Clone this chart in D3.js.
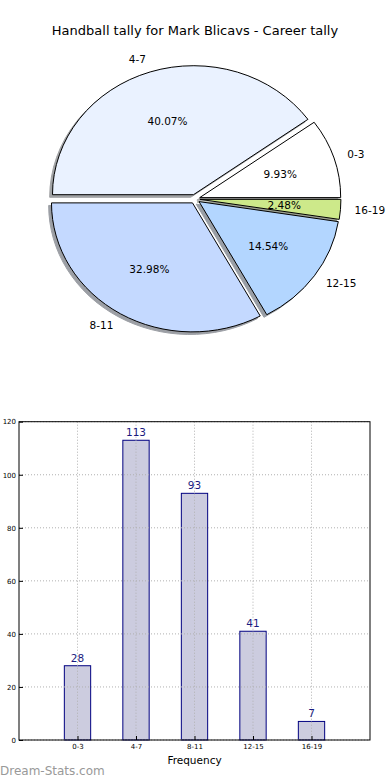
<!DOCTYPE html>
<html><head><meta charset="utf-8">
<script src="https://cdn.jsdelivr.net/npm/d3@7"></script>
<style>
html,body{margin:0;padding:0;background:#fff;}
text{font-family:"DejaVu Sans",sans-serif;}
</style></head>
<body>
<svg id="chart" width="390" height="780"></svg>
<script>
const title = "Handball tally for Mark Blicavs - Career tally";
const categories = ["0-3","4-7","8-11","12-15","16-19"];
const counts = [28,113,93,41,7];
const pieColors = ["#ffffff","#eaf2ff","#c4d9ff","#b3d6ff","#cde98a"];
const yTicks = [0,20,40,60,80,100,120];
const xLabel = "Frequency";
const watermark = "Dream-Stats.com";

(function(){
const svg = d3.select("#chart");
const total = d3.sum(counts);

svg.append("text").attr("x",195).attr("y",35).attr("text-anchor","middle")
  .attr("font-size","13px").attr("fill","#000").text(title);

// ---- Pie ----
const cx = 195, cy = 199, rx = 141, ry = 129, R = 100, explode = 0.035;
const sx = rx / R, sy = ry / R;
const pie = d3.pie().sort(null).startAngle(Math.PI/2).endAngle(Math.PI/2 - 2*Math.PI);
const arcs = pie(counts);
const arcGen = d3.arc().innerRadius(0).outerRadius(R);
const pg = svg.append("g").attr("transform",`translate(${cx},${cy}) scale(${sx},${sy})`);
function off(d){ const a=(d.startAngle+d.endAngle)/2; return [Math.sin(a)*explode*R, -Math.cos(a)*explode*R]; }
const shOff = [-0.02*R, 0.02*R];
function dark(i){const c=d3.rgb(pieColors[i]);return d3.rgb(c.r*0.3,c.g*0.3,c.b*0.3).toString();}
pg.selectAll("path.shadow").data(arcs).enter().append("path")
  .attr("class","shadow")
  .attr("transform",d=>{const o=off(d);return `translate(${o[0]+shOff[0]},${o[1]+shOff[1]})`;})
  .attr("d",arcGen)
  .attr("fill",(d,i)=>dark(i)).attr("stroke",(d,i)=>dark(i))
  .attr("stroke-width",1).attr("vector-effect","non-scaling-stroke")
  .attr("opacity",0.5);
pg.selectAll("path.wedge").data(arcs).enter().append("path")
  .attr("class","wedge")
  .attr("transform",d=>{const o=off(d);return `translate(${o[0]},${o[1]})`;})
  .attr("d",arcGen)
  .attr("fill",(d,i)=>pieColors[i])
  .attr("stroke","#000").attr("stroke-width",1).attr("vector-effect","non-scaling-stroke");
function pos(d,f){ const a=(d.startAngle+d.endAngle)/2; const o=off(d);
  return [cx + sx*(o[0]+f*R*Math.sin(a)), cy + sy*(o[1]-f*R*Math.cos(a))]; }
arcs.forEach((d,i)=>{
  const p = pos(d,1.1); const a=(d.startAngle+d.endAngle)/2;
  svg.append("text").attr("x",p[0]).attr("y",p[1]).attr("dy","0.36em")
    .attr("text-anchor", Math.sin(a) >= 0 ? "start" : "end")
    .attr("font-size","10.5px").attr("fill","#000").text(categories[i]);
  const q = pos(d,0.6);
  svg.append("text").attr("x",q[0]).attr("y",q[1]).attr("dy","0.36em")
    .attr("text-anchor","middle").attr("font-size","10.5px").attr("fill","#000")
    .text((counts[i]/total*100).toFixed(2)+"%");
});

// ---- Bars ----
const pLeft=19, pRight=370, pTop=421.7, pBottom=740;
const x = d3.scaleLinear().domain([-1,5]).range([pLeft,pRight]);
const y = d3.scaleLinear().domain([0,120]).range([pBottom,pTop]);
const bw = 0.45;
const bg = svg.append("g");
bg.selectAll("rect.bar").data(counts).enter().append("rect")
  .attr("x",(d,i)=>x(i-bw/2)).attr("width",(d,i)=>x(i+bw/2)-x(i-bw/2))
  .attr("y",d=>y(d)).attr("height",d=>pBottom-y(d))
  .attr("fill","#ccccdf").attr("stroke","#000080").attr("stroke-width",1);
bg.selectAll("line.vg").data(categories).enter().append("line")
  .attr("x1",(d,i)=>x(i)).attr("x2",(d,i)=>x(i)).attr("y1",pTop).attr("y2",pBottom)
  .attr("stroke","#b0b0b0").attr("stroke-width",1).attr("stroke-dasharray","1,2");
bg.selectAll("line.hg").data(yTicks).enter().append("line")
  .attr("x1",pLeft).attr("x2",pRight).attr("y1",d=>y(d)).attr("y2",d=>y(d))
  .attr("stroke","#b0b0b0").attr("stroke-width",1).attr("stroke-dasharray","1,2");
bg.selectAll("text.val").data(counts).enter().append("text")
  .attr("x",(d,i)=>x(i)).attr("y",d=>y(d)-4).attr("text-anchor","middle")
  .attr("font-size","10.5px").attr("fill","#1a1a80").text(d=>d);
const yAxis = d3.axisLeft(y).tickValues(yTicks).tickSize(-4).tickPadding(3);
const gy = svg.append("g").attr("transform",`translate(${pLeft},0)`).call(yAxis);
const xAxis = d3.axisBottom(x).tickValues(d3.range(categories.length)).tickFormat(i=>categories[i]).tickSize(-4).tickPadding(4);
const gx = svg.append("g").attr("transform",`translate(0,${pBottom})`).call(xAxis);
[gy,gx].forEach(g=>{
  g.select(".domain").remove();
  g.selectAll("text").attr("font-size","7px").attr("fill","#000").attr("font-family","DejaVu Sans, sans-serif");
  g.selectAll("line").attr("stroke","#000");
});
svg.append("rect").attr("x",pLeft).attr("y",pTop).attr("width",pRight-pLeft).attr("height",pBottom-pTop)
  .attr("fill","none").attr("stroke","#000").attr("stroke-width",1);
svg.append("text").attr("x",(pLeft+pRight)/2).attr("y",764).attr("text-anchor","middle")
  .attr("font-size","10.5px").attr("fill","#000").text(xLabel);
svg.append("text").attr("x",0).attr("y",775).attr("font-size","12px").attr("fill","#999").text(watermark);
})();
</script>
</body></html>
